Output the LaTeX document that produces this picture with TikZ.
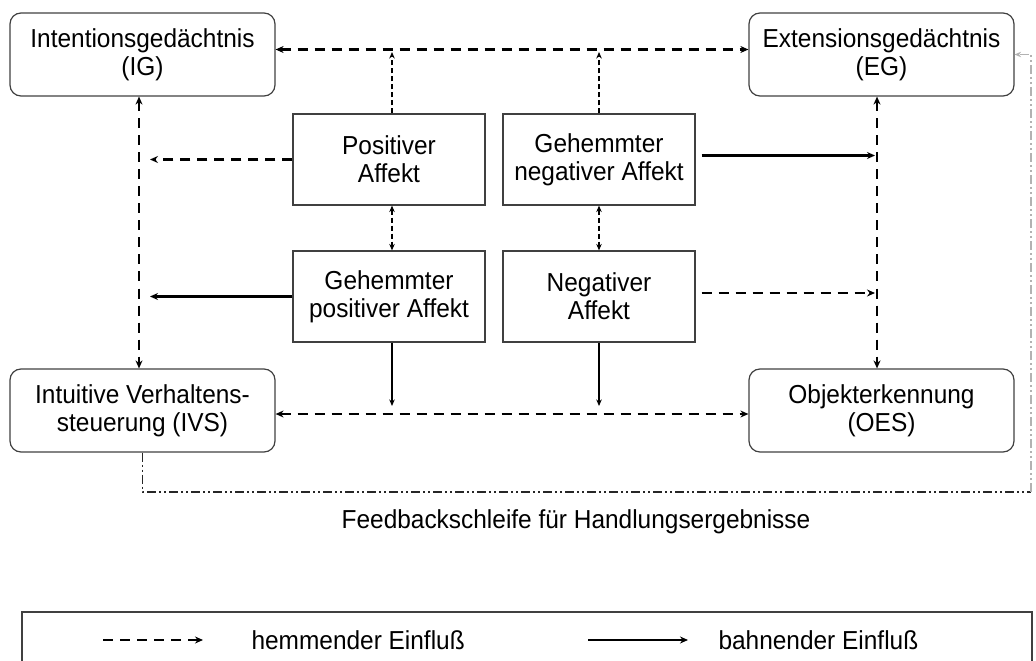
\documentclass[tikz,border=0pt]{standalone}
\usepackage{fontspec}
\setmainfont{Liberation Sans}[FakeStretch=0.94]
\usetikzlibrary{arrows.meta}
\begin{document}
\begin{tikzpicture}[x=1bp,y=-1bp,
  font=\fontsize{26bp}{28bp}\selectfont,
  rbox/.style={draw=black!75, line width=1.2bp, rounded corners=11bp, minimum width=265bp, minimum height=83bp, align=center, inner sep=0pt},
  abox/.style={draw=black!75, line width=1.2bp, minimum width=192bp, minimum height=91bp, align=center, inner sep=0pt},
  arr/.style={-{Stealth[length=8bp,width=7bp]}},
  arrs/.style={-{Stealth[length=6.5bp,width=5.5bp]}},
  darr/.style={{Stealth[length=8bp,width=7bp]}-{Stealth[length=8bp,width=7bp]}},
  darrs/.style={{Stealth[length=6.5bp,width=5.5bp]}-{Stealth[length=6.5bp,width=5.5bp]}},
  hemm/.style={line width=2.8bp, dash pattern=on 10bp off 7bp},
  hemmthin/.style={line width=1.2bp, dash pattern=on 5bp off 3bp},
  bahn/.style={line width=2.4bp},
  bahnthin/.style={line width=1.4bp},
  fb/.style={line width=1.4bp, dash pattern=on 9bp off 3bp on 2bp off 3bp on 2bp off 3bp},
]
\useasboundingbox (0,0) rectangle (1036,661);

% memory / system boxes
\node[rbox] (ig)  at (142.5,54.5) {Intentionsgedächtnis\\(IG)};
\node[rbox] (eg)  at (881.5,54.5) {Extensionsgedächtnis\\(EG)};
\node[rbox] (ivs) at (142.5,410.5) {Intuitive Verhaltens-\\steuerung (IVS)};
\node[rbox] (oes) at (881.5,410.5) {Objekterkennung\\(OES)};

% affect boxes
\node[abox] (pa)  at (389,159.5) {Positiver\\Affekt};
\node[abox] (gna) at (599,159.5) {Gehemmter\\negativer Affekt};
\node[abox] (gpa) at (389,296.5) {Gehemmter\\positiver Affekt};
\node[abox] (na)  at (599,296.5) {Negativer\\Affekt};

% helper coordinates
\coordinate (top) at (0,52);
\coordinate (bot) at (0,406);
\coordinate (vl) at (150,0);
\coordinate (vr) at (875,0);
\coordinate (fbr) at (1031,492);

% main connectors
\draw[hemm, darr] ([yshift=5bp]ig.east) -- ([yshift=5bp]eg.west);
\draw[hemm, darr] ([yshift=-3.5bp]ivs.east) -- ([yshift=-3.5bp]oes.west);
\draw[hemm, darr] ([xshift=-3.5bp]ig.south) -- ([xshift=-3.5bp]ivs.north);
\draw[hemm, darr] ([xshift=-4.5bp]eg.south) -- ([xshift=-4.5bp]oes.north);

% affect influences
\draw[hemmthin, arrs] ([xshift=3bp]pa.north) -- ([xshift=3bp]pa.north |- top);
\draw[hemmthin, arrs] (gna.north) -- (gna.north |- top);
\draw[hemmthin, darrs] ([xshift=3bp]pa.south) -- ([xshift=3bp]gpa.north);
\draw[hemmthin, darrs] (gna.south) -- (na.north);
\draw[hemm, arr] (pa.west) -- (pa.west -| vl);
\draw[bahn, arr] (gpa.west) -- (gpa.west -| vl);
\draw[bahn, arr] ([xshift=6bp,yshift=4bp]gna.east) -- ([yshift=4bp]gna.east -| vr);
\draw[hemm, arr] ([xshift=6bp,yshift=3.5bp]na.east) -- ([yshift=3.5bp]na.east -| vr);
\draw[bahnthin, arrs] ([xshift=3bp]gpa.south) -- ([xshift=3bp]gpa.south |- bot);
\draw[bahnthin, arrs] (na.south) -- (na.south |- bot);

% feedback loop
\draw[fb, black!85] (ivs.south) |- (fbr);
\draw[fb, black!30, arrs] (fbr) |- (eg.east);
\node (fbl) at (576,522) {Feedbackschleife für Handlungsergebnisse};

% legend
\draw[draw=black!75, line width=1.2bp] (22,668) -- (22,612) -- (1032,612) -- (1032,668);
\coordinate (l1a) at (103,640);
\coordinate (l1b) at (203,640);
\coordinate (l2a) at (588,640);
\coordinate (l2b) at (688,640);
\draw[hemm, arr] (l1a) -- (l1b);
\draw[bahn, arr] (l2a) -- (l2b);
\node[anchor=west] (l1t) at (248,640) {hemmender Einfluß};
\node[anchor=west] (l2t) at (715,640) {bahnender Einfluß};
\end{tikzpicture}
\end{document}
